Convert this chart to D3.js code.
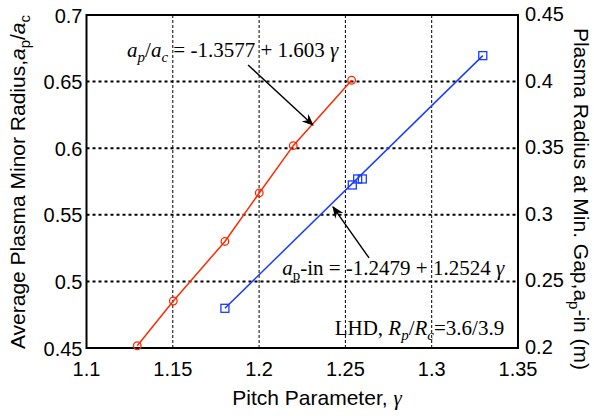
<!DOCTYPE html>
<html>
<head>
<meta charset="utf-8">
<script src="https://cdn.jsdelivr.net/npm/d3@7"></script>
<style>
  body { margin: 0; background: #fff; }
  svg { display: block; }
  .tick-label { font-family: "Liberation Sans", Arial, sans-serif; font-size: 20px; fill: #000; }
  .title { font-family: "Liberation Sans", Arial, sans-serif; font-size: 21px; fill: #000; }
  .note { font-family: "Liberation Serif", "Times New Roman", serif; font-size: 21px; fill: #000; }
</style>
</head>
<body>
<div id="chart"></div>
<script>
// pitch parameter gamma vs. average minor radius (left axis)
const redGamma = [1.1294, 1.1503, 1.1802, 1.2001, 1.2198, 1.2536];
const redRatio = [0.4517, 0.4853, 0.5300, 0.5664, 0.6019, 0.6510];

// pitch parameter gamma vs. radius at minimum gap (right axis, m)
const blueGamma = [1.1802, 1.2540, 1.2571, 1.2598, 1.3296];
const blueRadius = [0.2298, 0.3224, 0.3269, 0.3269, 0.4195];

const xTicks = [1.1, 1.15, 1.2, 1.25, 1.3, 1.35];
const yLeftTicks = [0.45, 0.5, 0.55, 0.6, 0.65, 0.7];
const yRightTicks = [0.2, 0.25, 0.3, 0.35, 0.4, 0.45];

// annotation arrows, [x0, y0, x1, y1] in data units
const arrowRed = [1.1936, 0.6625, 1.2312, 0.6174];   // left axis units
const arrowBlue = [1.2637, 0.2676, 1.2428, 0.3059];  // right axis units

const width = 594, height = 416;
const margin = { left: 86.5, right: 76, top: 15, bottom: 68 };

const svg = d3.select("#chart").append("svg")
  .attr("width", width)
  .attr("height", height);

const x = d3.scaleLinear().domain([1.1, 1.35]).range([margin.left, width - margin.right]);
const yL = d3.scaleLinear().domain([0.45, 0.7]).range([height - margin.bottom, margin.top]);
const yR = d3.scaleLinear().domain([0.2, 0.45]).range([height - margin.bottom, margin.top]);

const x0 = x.range()[0], x1 = x.range()[1];
const yBot = yL.range()[0], yTop = yL.range()[1];

// defs: arrow marker
svg.append("defs").append("marker")
  .attr("id", "arr")
  .attr("viewBox", "0 0 12 10")
  .attr("refX", 11)
  .attr("refY", 5)
  .attr("markerWidth", 12)
  .attr("markerHeight", 10)
  .attr("markerUnits", "userSpaceOnUse")
  .attr("orient", "auto")
  .append("path")
  .attr("d", "M0,0 L12,5 L0,10 L4,5 Z")
  .attr("fill", "#000");

// gridlines
const grid = svg.append("g");
grid.selectAll("line.v")
  .data(xTicks.slice(1, -1))
  .enter().append("line")
  .attr("x1", d => x(d)).attr("x2", d => x(d))
  .attr("y1", yTop).attr("y2", yBot)
  .attr("stroke", "#000")
  .attr("stroke-width", 1)
  .attr("stroke-dasharray", "3,2");

grid.selectAll("line.h")
  .data(yLeftTicks.slice(1, -1))
  .enter().append("line")
  .attr("x1", x0).attr("x2", x1)
  .attr("y1", d => yL(d)).attr("y2", d => yL(d))
  .attr("stroke", "#000")
  .attr("stroke-width", 2)
  .attr("stroke-dasharray", "3,3");

// frame
svg.append("rect")
  .attr("x", x0).attr("y", yTop)
  .attr("width", x1 - x0).attr("height", yBot - yTop)
  .attr("fill", "none")
  .attr("stroke", "#000")
  .attr("stroke-width", 2);

// tick labels
svg.append("g").selectAll("text")
  .data(xTicks)
  .enter().append("text")
  .attr("class", "tick-label")
  .attr("x", d => x(d))
  .attr("y", yBot + 28)
  .attr("text-anchor", "middle")
  .text(d => d3.format("")(d));

svg.append("g").selectAll("text")
  .data(yLeftTicks)
  .enter().append("text")
  .attr("class", "tick-label")
  .attr("x", x0 - 4)
  .attr("y", d => yL(d) + 7.5)
  .attr("text-anchor", "end")
  .text(d => d3.format("")(d));

svg.append("g").selectAll("text")
  .data(yRightTicks)
  .enter().append("text")
  .attr("class", "tick-label")
  .attr("x", x1 + 7)
  .attr("y", d => yR(d) + 6)
  .attr("text-anchor", "start")
  .text(d => d3.format("")(d));

// red series
const red = redGamma.map((g, i) => [g, redRatio[i]]);
svg.append("path")
  .datum(red)
  .attr("fill", "none")
  .attr("stroke", "#ff2a00")
  .attr("stroke-width", 1.5)
  .attr("d", d3.line().x(d => x(d[0])).y(d => yL(d[1])));

svg.append("g").selectAll("circle")
  .data(red)
  .enter().append("circle")
  .attr("cx", d => x(d[0]))
  .attr("cy", d => yL(d[1]))
  .attr("r", 3.8)
  .attr("fill", "none")
  .attr("stroke", "#ff2a00")
  .attr("stroke-width", 1.3);

// blue series
const blue = blueGamma.map((g, i) => [g, blueRadius[i]]);
svg.append("path")
  .datum([blue[0], blue[blue.length - 1]])
  .attr("fill", "none")
  .attr("stroke", "#1a3cff")
  .attr("stroke-width", 1.5)
  .attr("d", d3.line().x(d => x(d[0])).y(d => yR(d[1])));

svg.append("g").selectAll("rect")
  .data(blue)
  .enter().append("rect")
  .attr("x", d => x(d[0]) - 4)
  .attr("y", d => yR(d[1]) - 4)
  .attr("width", 8)
  .attr("height", 8)
  .attr("fill", "none")
  .attr("stroke", "#1a3cff")
  .attr("stroke-width", 1.3);

// arrows
svg.append("line")
  .attr("x1", x(arrowRed[0])).attr("y1", yL(arrowRed[1]))
  .attr("x2", x(arrowRed[2])).attr("y2", yL(arrowRed[3]))
  .attr("stroke", "#000").attr("stroke-width", 1.4)
  .attr("marker-end", "url(#arr)");

svg.append("line")
  .attr("x1", x(arrowBlue[0])).attr("y1", yR(arrowBlue[1]))
  .attr("x2", x(arrowBlue[2])).attr("y2", yR(arrowBlue[3]))
  .attr("stroke", "#000").attr("stroke-width", 1.4)
  .attr("marker-end", "url(#arr)");

// rich text helper: parts = [text, italic, sub]
function rich(sel, parts, subSize, shift) {
  let prevSub = false;
  parts.forEach(p => {
    const t = sel.append("tspan").text(p[0]);
    if (p[1]) t.style("font-style", "italic");
    if (p[2]) t.style("font-size", subSize + "px");
    if (p[2] && !prevSub) t.attr("dy", shift);
    if (!p[2] && prevSub) t.attr("dy", -shift);
    prevSub = !!p[2];
  });
}

// equations
rich(svg.append("text").attr("class", "note")
  .attr("x", x(1.1235)).attr("y", yL(0.6685)),
  [["a", 1], ["p", 1, 1], ["/", 0], ["a", 1], ["c", 1, 1], [" = -1.3577 + 1.603 ", 0], ["\u03b3", 1]], 15, 5);

rich(svg.append("text").attr("class", "note")
  .attr("x", x(1.342)).attr("y", yR(0.2548)).attr("text-anchor", "end"),
  [["a", 1], ["p", 0, 1], ["-in = -1.2479 + 1.2524 ", 0], ["\u03b3", 1]], 15, 5);

rich(svg.append("text").attr("class", "note")
  .attr("x", x(1.342)).attr("y", yR(0.2098)).attr("text-anchor", "end"),
  [["LHD, ", 0], ["R", 1], ["p", 1, 1], ["/", 0], ["R", 1], ["c", 1, 1], ["=3.6/3.9", 0]], 15, 5);

// axis titles
const xt = svg.append("text").attr("class", "title")
  .attr("x", 317).attr("y", 405)
  .attr("text-anchor", "middle");
xt.append("tspan").text("Pitch Parameter, ");
xt.append("tspan").text("\u03b3")
  .style("font-family", "'Liberation Serif', serif")
  .style("font-style", "italic");

const lt = svg.append("text").attr("class", "title")
  .attr("transform", "translate(25,182) rotate(-90)")
  .attr("text-anchor", "middle");
rich(lt, [["Average Plasma Minor Radius,", 0], ["a", 1], ["p", 0, 1], ["/", 0], ["a", 1], ["c", 0, 1]], 15, 5);

const rt = svg.append("text").attr("class", "title")
  .attr("transform", "translate(574,199) rotate(90)")
  .attr("text-anchor", "middle");
rich(rt, [["Plasma Radius at Min. Gap,", 0], ["a", 0], ["p", 0, 1], ["-in (m)", 0]], 15, 5);
</script>
</body>
</html>
